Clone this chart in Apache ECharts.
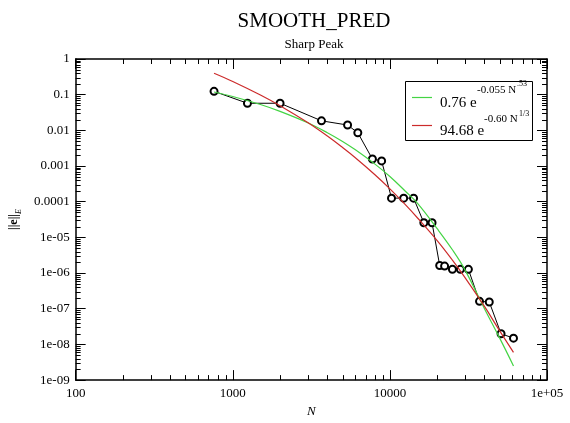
<!DOCTYPE html>
<html><head><meta charset="utf-8">
<script src="https://cdn.jsdelivr.net/npm/echarts@6/dist/echarts.min.js"></script>
<style>html,body{margin:0;padding:0;background:#fff}#c{width:570px;height:423px}</style>
</head><body><div id="c"></div>
<script>
// ---- data ----
const nValues = [760, 1240, 2000, 3670, 5380, 6250, 7740, 8860, 10240, 12240, 14150, 16450, 18550, 20750, 22300, 25000, 28100, 31600, 37200, 42900, 51000, 61200];
const errValues = [0.124, 0.0575, 0.0575, 0.0185, 0.0141, 0.00857, 0.00157, 0.00139, 1.26e-4, 1.26e-4, 1.26e-4, 2.57e-5, 2.57e-5, 1.63e-6, 1.57e-6, 1.27e-6, 1.27e-6, 1.27e-6, 1.61e-7, 1.55e-7, 1.99e-8, 1.50e-8];
const fitN = [760, 1000, 1500, 2000, 3000, 4000, 5000, 6000, 8000, 10000, 12500, 15000, 20000, 25000, 30000, 40000, 50000, 61200];
const fitGreen = [0.119, 0.089, 0.053, 0.034, 0.0163, 0.0086, 0.0049, 0.0029, 0.00115, 5.1e-4, 2.0e-4, 9.0e-5, 1.75e-5, 4.5e-6, 1.25e-6, 1.0e-7, 1.5e-8, 2.5e-9];
const fitRed = [0.40, 0.235, 0.098, 0.049, 0.0165, 0.0069, 0.0033, 0.00174, 5.8e-4, 2.3e-4, 8.4e-5, 3.5e-5, 8.1e-6, 2.3e-6, 7.6e-7, 1.16e-7, 2.4e-8, 6.0e-9];
const xTickValues = [100, 1000, 10000, 100000];
const xTickLabels = ['100', '1000', '10000', '1e+05'];
const yTickValues = [1, 0.1, 0.01, 0.001, 0.0001, 1e-5, 1e-6, 1e-7, 1e-8, 1e-9];
const yTickLabels = ['1', '0.1', '0.01', '0.001', '0.0001', '1e-05', '1e-06', '1e-07', '1e-08', '1e-09'];
const seriesNames = ['data', '0.76 e^-0.055 N^.53', '94.68 e^-0.60 N^1/3'];

// ---- helpers ----
const FONT = 'Liberation Serif';
function lookup(vals, labels, v) {
  for (let i = 0; i < vals.length; i++) {
    if (Math.abs(Math.log10(v) - Math.log10(vals[i])) < 1e-6) return labels[i];
  }
  return '';
}
const xMinor = [], yMinor = [];
[100, 1000, 10000].forEach(d => { for (let k = 2; k <= 9; k++) xMinor.push([d * k, 1]); });
[1e-9, 1e-8, 1e-7, 1e-6, 1e-5, 1e-4, 1e-3, 1e-2, 0.1].forEach(d => { for (let k = 2; k <= 9; k++) yMinor.push([100, d * k]); });

function xMinorRender(params, api) {
  const cs = params.coordSys;
  const x = Math.round(api.coord([api.value(0), 1])[0]) + 0.5;
  const yb = cs.y + cs.height, yt = cs.y;
  return { type: 'group', children: [
    { type: 'line', shape: { x1: x, y1: yb, x2: x, y2: yb - 5 }, style: { stroke: '#000', lineWidth: 1 } },
    { type: 'line', shape: { x1: x, y1: yt, x2: x, y2: yt + 5 }, style: { stroke: '#000', lineWidth: 1 } }
  ]};
}
function yMinorRender(params, api) {
  const cs = params.coordSys;
  const y = Math.round(api.coord([100, api.value(1)])[1]) + 0.5;
  const xl = cs.x, xr = cs.x + cs.width;
  return { type: 'group', children: [
    { type: 'line', shape: { x1: xl, y1: y, x2: xl + 5, y2: y }, style: { stroke: '#000', lineWidth: 1 } },
    { type: 'line', shape: { x1: xr, y1: y, x2: xr - 5, y2: y }, style: { stroke: '#000', lineWidth: 1 } }
  ]};
}

const axisLine = { show: true, onZero: false, lineStyle: { color: '#000', width: 1.5 } };
const axisTick = { show: true, inside: true, length: 10, lineStyle: { color: '#000', width: 1 } };

const chart = echarts.init(document.getElementById('c'), null, { renderer: 'canvas' });
chart.setOption({
  animation: false,
  backgroundColor: '#fff',
  title: {
    text: 'SMOOTH_PRED', subtext: 'Sharp Peak',
    left: 309, top: 6, textAlign: 'center', itemGap: 6,
    textStyle: { fontFamily: FONT, fontSize: 21, fontWeight: 'normal', color: '#000' },
    subtextStyle: { fontFamily: FONT, fontSize: 13, color: '#000' }
  },
  grid: { left: 71, right: 23, top: 59, bottom: 30, containLabel: false },
  xAxis: [
    { type: 'log', logBase: 10, min: 100, max: 100000, position: 'bottom', splitNumber: 3,
      axisLine, axisTick, splitLine: { show: false }, minorTick: { show: false },
      axisLabel: { formatter: v => lookup(xTickValues, xTickLabels, v), fontFamily: FONT, fontSize: 13, color: '#000', margin: 7, showMinLabel: true, showMaxLabel: true },
      name: 'N', nameLocation: 'middle', nameGap: 15,
      nameTextStyle: { fontFamily: FONT, fontSize: 13, fontStyle: 'italic', color: '#000' } },
    { type: 'log', logBase: 10, min: 100, max: 100000, position: 'top', splitNumber: 3,
      axisLine, axisTick, splitLine: { show: false }, axisLabel: { show: false } }
  ],
  yAxis: [
    { type: 'log', logBase: 10, min: 1e-9, max: 1, position: 'left', splitNumber: 9,
      axisLine, axisTick, splitLine: { show: false }, minorTick: { show: false },
      axisLabel: { formatter: v => lookup(yTickValues, yTickLabels, v), fontFamily: FONT, fontSize: 13, color: '#000', margin: 6, showMinLabel: true, showMaxLabel: true },
      name: '{t|||e||}{s|E}', nameLocation: 'middle', nameGap: 46,
      nameTextStyle: { fontFamily: FONT, color: '#000',
        rich: {
          t: { fontFamily: FONT, fontSize: 12, fontWeight: 'bold', lineHeight: 18, verticalAlign: 'middle', color: '#000' },
          s: { fontFamily: FONT, fontSize: 8, fontStyle: 'italic', lineHeight: 8, verticalAlign: 'bottom', color: '#000' }
        } } },
    { type: 'log', logBase: 10, min: 1e-9, max: 1, position: 'right', splitNumber: 9,
      axisLine, axisTick, splitLine: { show: false }, axisLabel: { show: false } }
  ],
  series: [
    { type: 'custom', silent: true, xAxisIndex: 0, yAxisIndex: 0, renderItem: xMinorRender, data: xMinor, z: 1 },
    { type: 'custom', silent: true, xAxisIndex: 0, yAxisIndex: 0, renderItem: yMinorRender, data: yMinor, z: 1 },
    { name: seriesNames[0], type: 'line', data: nValues.map((n, i) => [n, errValues[i]]),
      symbol: 'emptyCircle', symbolSize: 7, showAllSymbol: true,
      itemStyle: { color: '#000', borderColor: '#000', borderWidth: 1 },
      lineStyle: { color: '#000', width: 1 }, z: 2 },
    { name: seriesNames[1], type: 'line', data: fitN.map((n, i) => [n, fitGreen[i]]),
      showSymbol: false, smooth: 0.4, lineStyle: { color: '#44d444', width: 1.2 }, itemStyle: { color: '#44d444' }, z: 3 },
    { name: seriesNames[2], type: 'line', data: fitN.map((n, i) => [n, fitRed[i]]),
      showSymbol: false, smooth: 0.4, lineStyle: { color: '#cc2b2b', width: 1.2 }, itemStyle: { color: '#cc2b2b' }, z: 4 }
  ],
  graphic: [
    { type: 'rect', z: 100, shape: { x: 405.5, y: 81.5, width: 127, height: 59 }, style: { fill: '#fff', stroke: '#000', lineWidth: 1 } },
    { type: 'line', z: 101, shape: { x1: 412, y1: 97.5, x2: 432, y2: 97.5 }, style: { stroke: '#44d444', lineWidth: 1.2 } },
    { type: 'line', z: 101, shape: { x1: 412, y1: 125.5, x2: 432, y2: 125.5 }, style: { stroke: '#cc2b2b', lineWidth: 1.2 } },
    { type: 'text', z: 101, style: { x: 440, y: 103, text: '0.76 e', font: '15px "Liberation Serif"', fill: '#000', textAlign: 'left', textVerticalAlign: 'middle', verticalAlign: 'middle' } },
    { type: 'text', z: 101, style: { x: 477, y: 90, text: '-0.055 N', font: '11px "Liberation Serif"', fill: '#000', textAlign: 'left', textVerticalAlign: 'middle', verticalAlign: 'middle' } },
    { type: 'text', z: 101, style: { x: 517, y: 84, text: '.53', font: '8px "Liberation Serif"', fill: '#000', textAlign: 'left', textVerticalAlign: 'middle', verticalAlign: 'middle' } },
    { type: 'text', z: 101, style: { x: 440, y: 131, text: '94.68 e', font: '15px "Liberation Serif"', fill: '#000', textAlign: 'left', textVerticalAlign: 'middle', verticalAlign: 'middle' } },
    { type: 'text', z: 101, style: { x: 484, y: 119, text: '-0.60 N', font: '11px "Liberation Serif"', fill: '#000', textAlign: 'left', textVerticalAlign: 'middle', verticalAlign: 'middle' } },
    { type: 'text', z: 101, style: { x: 519, y: 114, text: '1/3', font: '8px "Liberation Serif"', fill: '#000', textAlign: 'left', textVerticalAlign: 'middle', verticalAlign: 'middle' } }
  ]
});
</script>
</body></html>
